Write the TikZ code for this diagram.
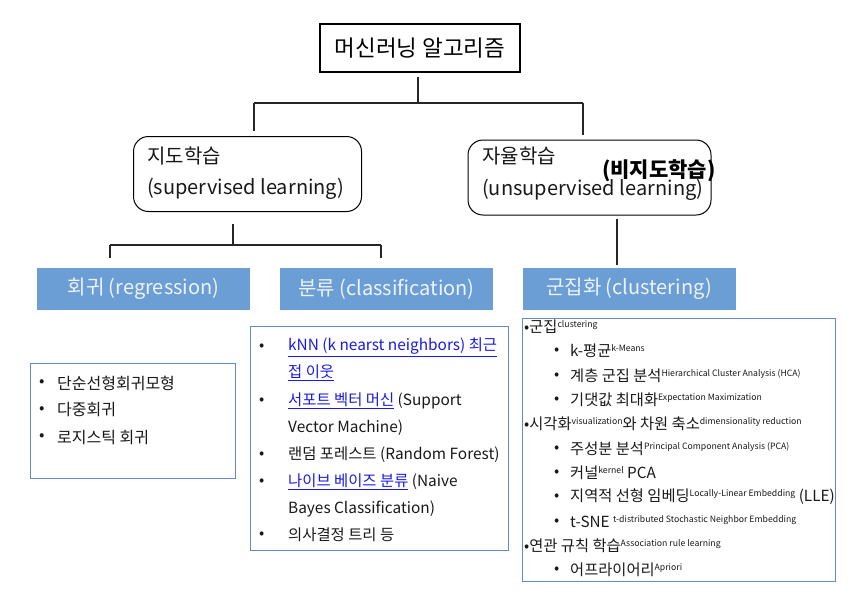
\documentclass[tikz,border=0pt]{standalone}
\usepackage{fontspec}
\setmainfont{Noto Sans CJK KR}
\usetikzlibrary{calc}
\definecolor{boxblue}{RGB}{108,158,214}
\definecolor{listblue}{RGB}{94,138,208}
\definecolor{linkblue}{RGB}{26,26,230}
\definecolor{lighttext}{RGB}{238,243,250}
\definecolor{inktext}{RGB}{25,25,25}
\newcommand\sups[1]{\raisebox{5pt}{\fontsize{8.7}{9}\selectfont #1}}
\newcommand\lnk[1]{\underline{#1}}
\begin{document}
\begin{tikzpicture}[x=1pt,y=-1pt,
  conn/.style={draw=black!85, line width=1.1pt},
  topbox/.style={draw, line width=1.2pt, minimum width=200pt, minimum height=48pt, inner sep=0pt, font=\fontsize{22.5}{24}\selectfont},
  rbox/.style={draw, line width=1pt, rounded corners=15pt, inner sep=0pt},
  bluebox/.style={fill=boxblue, minimum width=213pt, minimum height=42pt, inner sep=0pt, text=lighttext, font=\fontsize{20}{22}\selectfont},
  listbox/.style={draw=listblue, line width=0.9pt, anchor=north west, inner sep=0pt},
  txt/.style={anchor=west, inner sep=0pt, text=inktext},
  hdtxt/.style={txt, font=\fontsize{20}{22}\selectfont},
  rtxt/.style={txt, font=\fontsize{16}{18}\selectfont},
  ctxt/.style={txt, font=\fontsize{15.4}{18}\selectfont},
  ktxt/.style={txt, font=\fontsize{15.3}{17}\selectfont},
  linktxt/.style={text=linkblue}
]
\useasboundingbox (0,0) rectangle (850,592);
\fill[white] (0,0) rectangle (850,592);

% top
\node[topbox] (top) at (420,48) {머신러닝 알고리즘};

% second level
\node[rbox, minimum width=228pt, minimum height=75pt] (sup) at (247.5,174) {};
\node[hdtxt] (supk) at (147,156) {지도학습};
\node[hdtxt] (supe) at (147,189) {(supervised learning)};

\node[rbox, minimum width=243pt, minimum height=75pt] (uns) at (589.5,177.5) {};
\node[hdtxt] (unsk) at (482,156) {자율학습};
\node[hdtxt] (unse) at (482,190) {(unsupervised learning)};
\node[txt, font=\bfseries\fontsize{21}{23}\selectfont, text=black] (unsb) at (602,171) {(비지도학습)};

% third level
\node[bluebox] (reg) at (143.5,289) {\raisebox{-3.5pt}{회귀 (regression)}};
\node[bluebox] (cls) at (386.5,289) {\raisebox{-2pt}{분류 (classification)}};
\node[bluebox] (clu) at (629,289) {\raisebox{-3.5pt}{군집화 (clustering)}};

% connectors
\coordinate (ja) at (418,103);
\coordinate (jl) at (254,103);
\coordinate (jr) at (583,103);
\draw[conn] ($(top.south -| ja)+(0,4)$) -- (ja);
\draw[conn] (jl) -- (jr);
\draw[conn] (jl) -- ($(sup.north -| jl)+(0,-5)$);
\draw[conn] (jr) -- ($(uns.north -| jr)+(0,-5)$);

\coordinate (jb) at (233,245);
\coordinate (jbl) at (110,245);
\coordinate (jbr) at (381,245);
\draw[conn] ($(sup.south -| jb)+(0,12)$) -- (jb);
\draw[conn] (jbl) -- (jbr);
\draw[conn] (jbl) -- ($(reg.north -| jbl)+(0,-10)$);
\draw[conn] (jbr) -- ($(cls.north -| jbr)+(0,-10)$);

\coordinate (jc) at (617,240);
\draw[conn] ($(uns.south -| jc)+(0,3)$) -- ($(clu.north -| jc)+(0,-3)$);

% regression list
\node[listbox, minimum width=205pt, minimum height=115pt] (regl) at (30,363) {};
\node[rtxt] (rb1) at (39,383) {•};
\node[rtxt] (r1) at (57,383) {단순선형회귀모형};
\node[rtxt] (rb2) at (39,410) {•};
\node[rtxt] (r2) at (57,410) {다중회귀};
\node[rtxt] (rb3) at (39,437) {•};
\node[rtxt] (r3) at (57,437) {로지스틱 회귀};

% classification list
\node[listbox, minimum width=258pt, minimum height=224pt] (clsl) at (250,326) {};
\node[ctxt] (cb1) at (259,347) {•};
\node[ctxt, linktxt] (c1) at (288,347) {\lnk{kNN (k nearst neighbors) 최근}};
\node[ctxt, linktxt] (c2) at (288,373) {\lnk{접 이웃}};
\node[ctxt] (cb3) at (259,401) {•};
\node[ctxt] (c3) at (288,401) {\textcolor{linkblue}{\lnk{서포트 벡터 머신}} (Support};
\node[ctxt] (c4) at (288,428) {Vector Machine)};
\node[ctxt] (cb5) at (259,455) {•};
\node[ctxt] (c5) at (288,455) {랜덤 포레스트 (Random Forest)};
\node[ctxt] (cb6) at (259,482) {•};
\node[ctxt] (c6) at (288,482) {\textcolor{linkblue}{\lnk{나이브 베이즈 분류}} (Naive};
\node[ctxt] (c7) at (288,509) {Bayes Classification)};
\node[ctxt] (cb8) at (259,535) {•};
\node[ctxt] (c8) at (288,535) {의사결정 트리 등};

% clustering list
\node[listbox, minimum width=313pt, minimum height=263pt] (clul) at (522,318) {};
\node[ktxt] (k1) at (524,327) {•군집\sups{clustering}};
\node[ktxt] (kb2) at (554,351) {•};
\node[ktxt] (k2) at (570,351) {k-평균\sups{k-Means}};
\node[ktxt] (kb3) at (554,376) {•};
\node[ktxt] (k3) at (570,376) {계층 군집 분석\sups{Hierarchical Cluster Analysis (HCA)}};
\node[ktxt] (kb4) at (554,400) {•};
\node[ktxt] (k4) at (570,400) {기댓값 최대화\sups{Expectation Maximization}};
\node[ktxt] (k5) at (524,424) {•시각화\sups{visualization}와 차원 축소\sups{dimensionality reduction}};
\node[ktxt] (kb6) at (554,449) {•};
\node[ktxt] (k6) at (570,449) {주성분 분석\sups{Principal Component Analysis (PCA)}};
\node[ktxt] (kb7) at (554,473) {•};
\node[ktxt] (k7) at (570,473) {커널\sups{kernel} PCA};
\node[ktxt] (kb8) at (554,497) {•};
\node[ktxt] (k8) at (570,497) {지역적 선형 임베딩\sups{Locally-Linear Embedding} (LLE)};
\node[ktxt] (kb9) at (554,522) {•};
\node[ktxt] (k9) at (570,522) {t-SNE \sups{t-distributed Stochastic Neighbor Embedding}};
\node[ktxt] (k10) at (524,546) {•연관 규칙 학습\sups{Association rule learning}};
\node[ktxt] (kb11) at (554,570) {•};
\node[ktxt] (k11) at (570,570) {어프라이어리\sups{Apriori}};
\end{tikzpicture}
\end{document}
